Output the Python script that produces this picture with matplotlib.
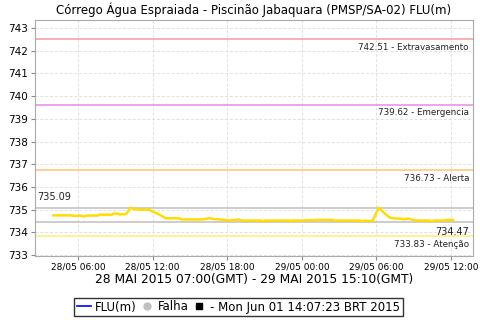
import matplotlib
matplotlib.use("Agg")
import matplotlib.pyplot as plt
import matplotlib.dates as mdates
from matplotlib.lines import Line2D
import pandas as pd

title = "Córrego Água Espraiada - Piscinão Jabaquara (PMSP/SA-02) FLU(m)"
xlabel = "28 MAI 2015 07:00(GMT) - 29 MAI 2015 15:10(GMT)"
stamp = "- Mon Jun 01 14:07:23 BRT 2015"

# hours since 28/05/2015 00:00 (local) and level in metres
hours = [4.0, 4.5, 5.3, 5.9, 6.1, 6.45, 6.7, 7.6, 7.73, 8.7, 8.9, 9.2, 9.35, 9.75,
         9.9, 10.22, 10.55, 10.95, 11.75, 11.9, 12.3, 12.8, 13.04, 14.16, 14.3,
         16.0, 16.3, 16.55, 16.95, 17.4, 18.2, 18.9, 19.2, 20.75, 20.85, 21.0,
         23.0, 23.1, 23.2, 23.8, 25.4, 26.4, 26.6, 28.7, 28.8, 29.05, 29.7,
         30.17, 30.65, 31.05, 31.45, 31.85, 32.26, 32.6, 33.0, 33.45, 34.3,
         34.4, 34.65, 35.45, 35.6, 36.17]
levels = [734.75, 734.75, 734.75, 734.72, 734.75, 734.70, 734.74, 734.74, 734.78,
          734.78, 734.83, 734.83, 734.79, 734.80, 734.83, 735.09, 735.02, 735.00,
          735.00, 734.93, 734.85, 734.70, 734.62, 734.62, 734.57, 734.57, 734.60,
          734.63, 734.58, 734.57, 734.52, 734.57, 734.52, 734.52, 734.47, 734.52,
          734.52, 734.48, 734.52, 734.52, 734.55, 734.55, 734.52, 734.52, 734.48,
          734.52, 734.50, 735.09, 734.84, 734.66, 734.61, 734.61, 734.58, 734.61,
          734.54, 734.52, 734.52, 734.48, 734.52, 734.52, 734.55, 734.55]

limits = [742.51, 739.62, 736.73, 733.83]
limit_names = ["Extravasamento", "Emergencia", "Alerta", "Atenção"]
limit_colors = ["#f4a3a3", "#eb94eb", "#ffc880", "#fff080"]

t0 = pd.Timestamp("2015-05-28 00:00")
times = [t0 + pd.Timedelta(hours=h) for h in hours]
vmax, vmin = max(levels), min(levels)

fig = plt.figure(figsize=(4.8, 3.2), dpi=100)
ax = fig.add_axes([35 / 480, 1 - 256 / 320, 438 / 480, 236 / 320])

for v, name, c in zip(limits, limit_names, limit_colors):
    ax.axhline(v, color=c, lw=1.2, zorder=2)
    ax.annotate(f"{v:.2f} - {name}", xy=(1, v), xycoords=("axes fraction", "data"),
                xytext=(-4, -8), textcoords="offset pixels", ha="right", va="center",
                fontsize=6.3, color="#222222")

ax.axhline(vmax, color="#c4c4c4", lw=1.2, zorder=2)
ax.axhline(vmin, color="#c4c4c4", lw=1.2, zorder=2)
ax.annotate(f"{vmax:.2f}", xy=(0, vmax), xycoords=("axes fraction", "data"),
            xytext=(2, 11), textcoords="offset pixels", ha="left", va="center",
            fontsize=7, color="#222222")
ax.annotate(f"{vmin:.2f}", xy=(1, vmin), xycoords=("axes fraction", "data"),
            xytext=(-4, -10), textcoords="offset pixels", ha="right", va="center",
            fontsize=7, color="#222222")

ax.plot(times, levels, color="#ffdd00", lw=1.8, zorder=3)

ax.set_xlim(t0 + pd.Timedelta(hours=2.53), t0 + pd.Timedelta(hours=37.77))
ax.set_ylim(732.96, 743.35)
ax.set_yticks(range(733, 744))
ax.xaxis.set_major_locator(mdates.HourLocator(byhour=[0, 6, 12, 18]))
ax.xaxis.set_major_formatter(mdates.DateFormatter("%d/%m %H:%M"))
ax.tick_params(axis="x", labelsize=6.5, length=3, color="#888888", pad=2)
ax.tick_params(axis="y", labelsize=7.5, length=3, color="#888888", pad=2)
ax.grid(True, color="#e0e0e0", ls=(0, (3, 2)), lw=0.7)
for s in ax.spines.values():
    s.set_color("#aaaaaa")

ax.set_title(title, fontsize=8.5, pad=4)
ax.set_xlabel(xlabel, fontsize=8.8, labelpad=1)

handles = [Line2D([], [], color="#0000ff", lw=1.2),
           Line2D([], [], color="#c0c0c0", marker="o", ls="", ms=5),
           Line2D([], [], color="#000000", marker="s", ls="", ms=5)]
leg = fig.legend(handles, ["FLU(m)", "Falha", stamp], loc="center",
                 bbox_to_anchor=(238.5 / 480, 1 - 307 / 320), ncol=3, fontsize=8.5,
                 frameon=True, fancybox=False, handlelength=1.2, handletextpad=0.3,
                 columnspacing=0.3, borderpad=0.25, borderaxespad=0)
leg.get_frame().set_edgecolor("black")
leg.get_frame().set_linewidth(1)

fig.savefig("out.png", dpi=100)
